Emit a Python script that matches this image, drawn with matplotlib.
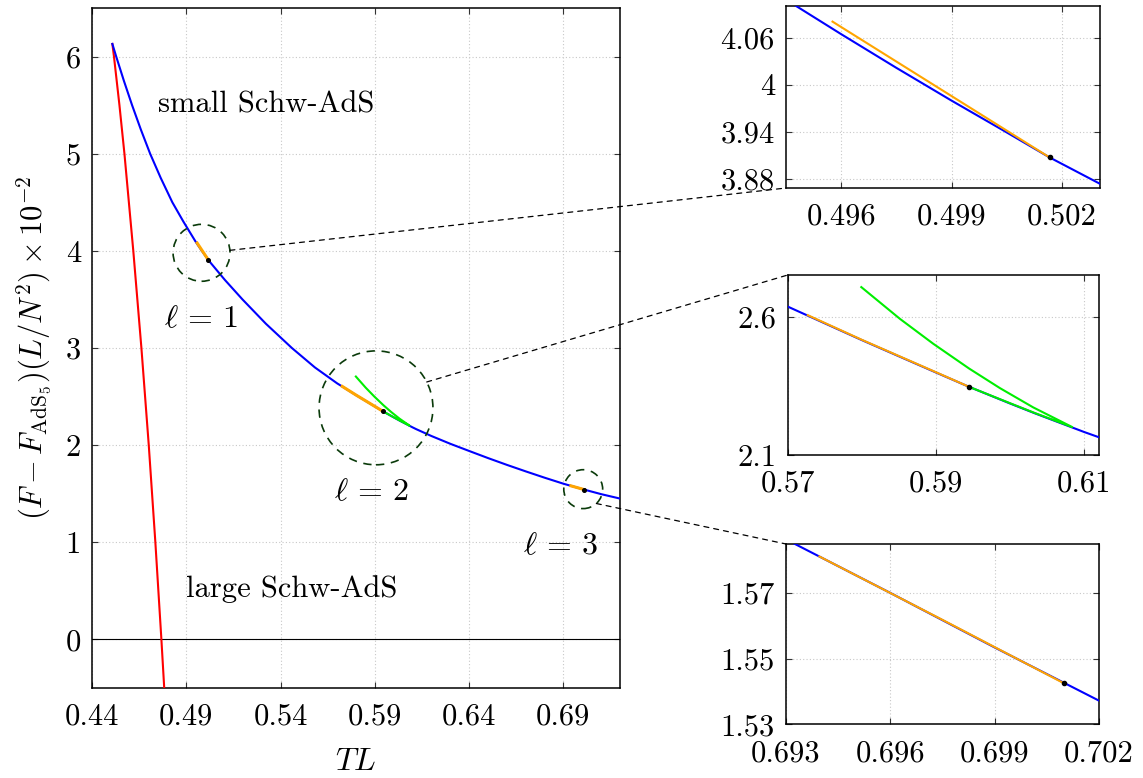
import math
import matplotlib
matplotlib.use("Agg")
import matplotlib.pyplot as plt
import matplotlib.transforms as mtransforms
from matplotlib.patches import Circle, ConnectionPatch

plt.rcParams['font.family'] = 'serif'
plt.rcParams['font.serif'] = ['cmr10']
plt.rcParams['mathtext.fontset'] = 'cm'
plt.rcParams['axes.unicode_minus'] = False

# small Schw-AdS branch (blue)
small_T = [0.4508, 0.45284, 0.45692, 0.46125, 0.46588, 0.47083, 0.47646, 0.48260,
           0.48850, 0.49477, 0.49600, 0.49749, 0.49900, 0.50039, 0.50166, 0.50303,
           0.5105, 0.5198, 0.5322, 0.5460, 0.5582, 0.5700, 0.5800, 0.5900, 0.5944,
           0.6000, 0.6034, 0.6100, 0.6120, 0.6200, 0.6300, 0.6400, 0.6500, 0.6600,
           0.6700, 0.6800, 0.6900, 0.6930, 0.6960, 0.6990, 0.7020, 0.7100, 0.7200]
small_F = [6.130, 6.000, 5.750, 5.500, 5.250, 5.000, 4.750, 4.500,
           4.300, 4.1003, 4.0643, 4.0217, 3.9797, 3.9422, 3.9075, 3.8739,
           3.700, 3.500, 3.250, 3.000, 2.800, 2.636, 2.515, 2.398, 2.347,
           2.286, 2.250, 2.183, 2.164, 2.094, 2.014, 1.940, 1.867, 1.797,
           1.730, 1.665, 1.603, 1.5863, 1.5700, 1.5534, 1.5372, 1.4956, 1.4500]

# large Schw-AdS branch (red)
large_T = [0.4508, 0.45165, 0.45455, 0.4572, 0.4619, 0.4662, 0.4701, 0.4736,
           0.4768, 0.4783]
large_F = [6.13, 6.00, 5.50, 5.00, 4.00, 3.00, 2.00, 1.00, 0.00, -0.50]

# l = 1 branch (orange)
l1_T = [0.49576, 0.49900, 0.50166]
l1_F = [4.0804, 3.9855, 3.9075]

# l = 2 branches (orange, green)
l2_T = [0.5727, 0.5800, 0.5900, 0.5944]
l2_F = [2.605, 2.516, 2.399, 2.347]
l2b_T = [0.57993, 0.58514, 0.58964, 0.59449, 0.59863, 0.60312, 0.60838,
         0.6034, 0.6000, 0.5944]
l2b_F = [2.7063, 2.5917, 2.5017, 2.4120, 2.3416, 2.2720, 2.2010,
         2.251, 2.287, 2.347]

# l = 3 branch (orange)
l3_T = [0.69396, 0.69750, 0.70099]
l3_F = [1.5811, 1.5618, 1.5425]

# onset points
dot_T = [0.50166, 0.5944, 0.70099]
dot_F = [3.9075, 2.347, 1.5425]

# zoom regions: centre (T, F), radius in points, connector start angle
zoom_T = [0.4981, 0.5906, 0.7005]
zoom_F = [3.98, 2.384, 1.547]
zoom_r = [20.5, 41.0, 14.0]
zoom_ang = [5.0, 27.0, -47.6]

main_xticks = [0.44, 0.49, 0.54, 0.59, 0.64, 0.69]
main_xlabels = ['0.44', '0.49', '0.54', '0.59', '0.64', '0.69']
main_yticks = [0, 1, 2, 3, 4, 5, 6]
main_ylabels = ['0', '1', '2', '3', '4', '5', '6']

ins1_xticks = [0.496, 0.499, 0.502]
ins1_xlabels = ['0.496', '0.499', '0.502']
ins1_yticks = [3.88, 3.94, 4.00, 4.06]
ins1_ylabels = ['3.88', '3.94', '4', '4.06']

ins2_xticks = [0.57, 0.59, 0.61]
ins2_xlabels = ['0.57', '0.59', '0.61']
ins2_yticks = [2.1, 2.6]
ins2_ylabels = ['2.1', '2.6']

ins3_xticks = [0.693, 0.696, 0.699, 0.702]
ins3_xlabels = ['0.693', '0.696', '0.699', '0.702']
ins3_yticks = [1.53, 1.55, 1.57]
ins3_ylabels = ['1.53', '1.55', '1.57']

FS = 22
W, H = 1143, 778
fig = plt.figure(figsize=(W / 100, H / 100), dpi=100)


def style(ax, xt, xl, yt, yl):
    ax.set_xticks(xt)
    ax.set_xticklabels(xl)
    ax.set_yticks(yt)
    ax.set_yticklabels(yl)
    ax.tick_params(direction='in', top=True, right=True, length=4.5, width=0.8,
                   color='#333333', labelsize=FS)
    ax.tick_params(axis='x', pad=11)
    ax.tick_params(axis='y', pad=8)
    ax.grid(True, linestyle=(0, (1, 2)), color='#c8c8c8', linewidth=0.8)
    for s in ax.spines.values():
        s.set_linewidth(1.1)


def draw_curves(ax, lw_main, lw_or, ms):
    ax.plot(large_T, large_F, color='#ff0000', lw=lw_main, zorder=3)
    ax.plot(small_T, small_F, color='#0000ff', lw=lw_main, zorder=3)
    ax.plot(l2b_T, l2b_F, color='#00ee00', lw=lw_main, zorder=4)
    for t, f in [(l1_T, l1_F), (l2_T, l2_F), (l3_T, l3_F)]:
        ax.plot(t, f, color='#ffa500', lw=lw_or, zorder=5)
    ax.plot(dot_T, dot_F, 'o', color='black', ms=ms, zorder=6)


# main panel
ax = fig.add_axes([92 / W, 1 - 688 / H, 528 / W, 680 / H])
draw_curves(ax, 1.5, 2.2, 2.6)
ax.axhline(0, color='black', lw=0.8, zorder=2)
ax.set_xlim(0.44, 0.72)
ax.set_ylim(-0.5, 6.5)
style(ax, main_xticks, main_xlabels, main_yticks, main_ylabels)
ax.set_xlabel(r'$TL$', fontsize=FS + 1, labelpad=13)
ax.set_ylabel(r'$(F - F_{\mathrm{AdS}_5})(L/N^2)\times 10^{-2}$', fontsize=FS, labelpad=8)

ax.text(0.5324, 5.50, 'small Schw-AdS', fontsize=FS, ha='center', va='center')
ax.text(0.5457, 0.514, 'large Schw-AdS', fontsize=FS, ha='center', va='center')
ax.text(0.4979, 3.29, r'$\ell\,=\,1$', fontsize=FS + 1, ha='center', va='center')
ax.text(0.5881, 1.517, r'$\ell\,=\,2$', fontsize=FS + 1, ha='center', va='center')
ax.text(0.6883, 0.954, r'$\ell\,=\,3$', fontsize=FS + 1, ha='center', va='center')


def point_trans(x, y):
    # offsets in points around a data point of the main panel
    return (mtransforms.Affine2D().scale(1 / 72.) + fig.dpi_scale_trans
            + mtransforms.ScaledTranslation(x, y, ax.transData))


# inset panels
ins1 = fig.add_axes([786 / W, 1 - 188 / H, 314 / W, 182 / H])
draw_curves(ins1, 1.5, 1.5, 3.0)
ins1.set_xlim(0.494495, 0.503033)
ins1.set_ylim(3.8685, 4.1003)
style(ins1, ins1_xticks, ins1_xlabels, ins1_yticks, ins1_ylabels)

ins2 = fig.add_axes([787.7 / W, 1 - 455 / H, 311.3 / W, 180 / H])
draw_curves(ins2, 1.5, 1.5, 3.0)
ins2.set_xlim(0.57, 0.612)
ins2.set_ylim(2.1, 2.75)
style(ins2, ins2_xticks, ins2_xlabels, ins2_yticks, ins2_ylabels)

ins3 = fig.add_axes([786 / W, 1 - 724.3 / H, 313 / W, 180.3 / H])
draw_curves(ins3, 1.5, 1.5, 3.0)
ins3.set_xlim(0.693, 0.702)
ins3.set_ylim(1.53, 1.5849)
style(ins3, ins3_xticks, ins3_xlabels, ins3_yticks, ins3_ylabels)

corners = [(ins1, (0, 0)), (ins2, (0, 1)), (ins3, (0, 1))]
for i, (inset, corner) in enumerate(corners):
    tr = point_trans(zoom_T[i], zoom_F[i])
    ax.add_patch(Circle((0, 0), zoom_r[i], transform=tr, fill=False,
                        edgecolor='#0a3a0a', lw=1.2, linestyle=(0, (5, 4)),
                        zorder=7, clip_on=False))
    a = math.radians(zoom_ang[i])
    start = (zoom_r[i] * math.cos(a), zoom_r[i] * math.sin(a))
    con = ConnectionPatch(xyA=start, coordsA=tr, xyB=corner, coordsB=inset.transAxes,
                          color='black', lw=0.9, linestyle=(0, (4, 4)))
    fig.add_artist(con)

fig.savefig('out.png', dpi=100)
